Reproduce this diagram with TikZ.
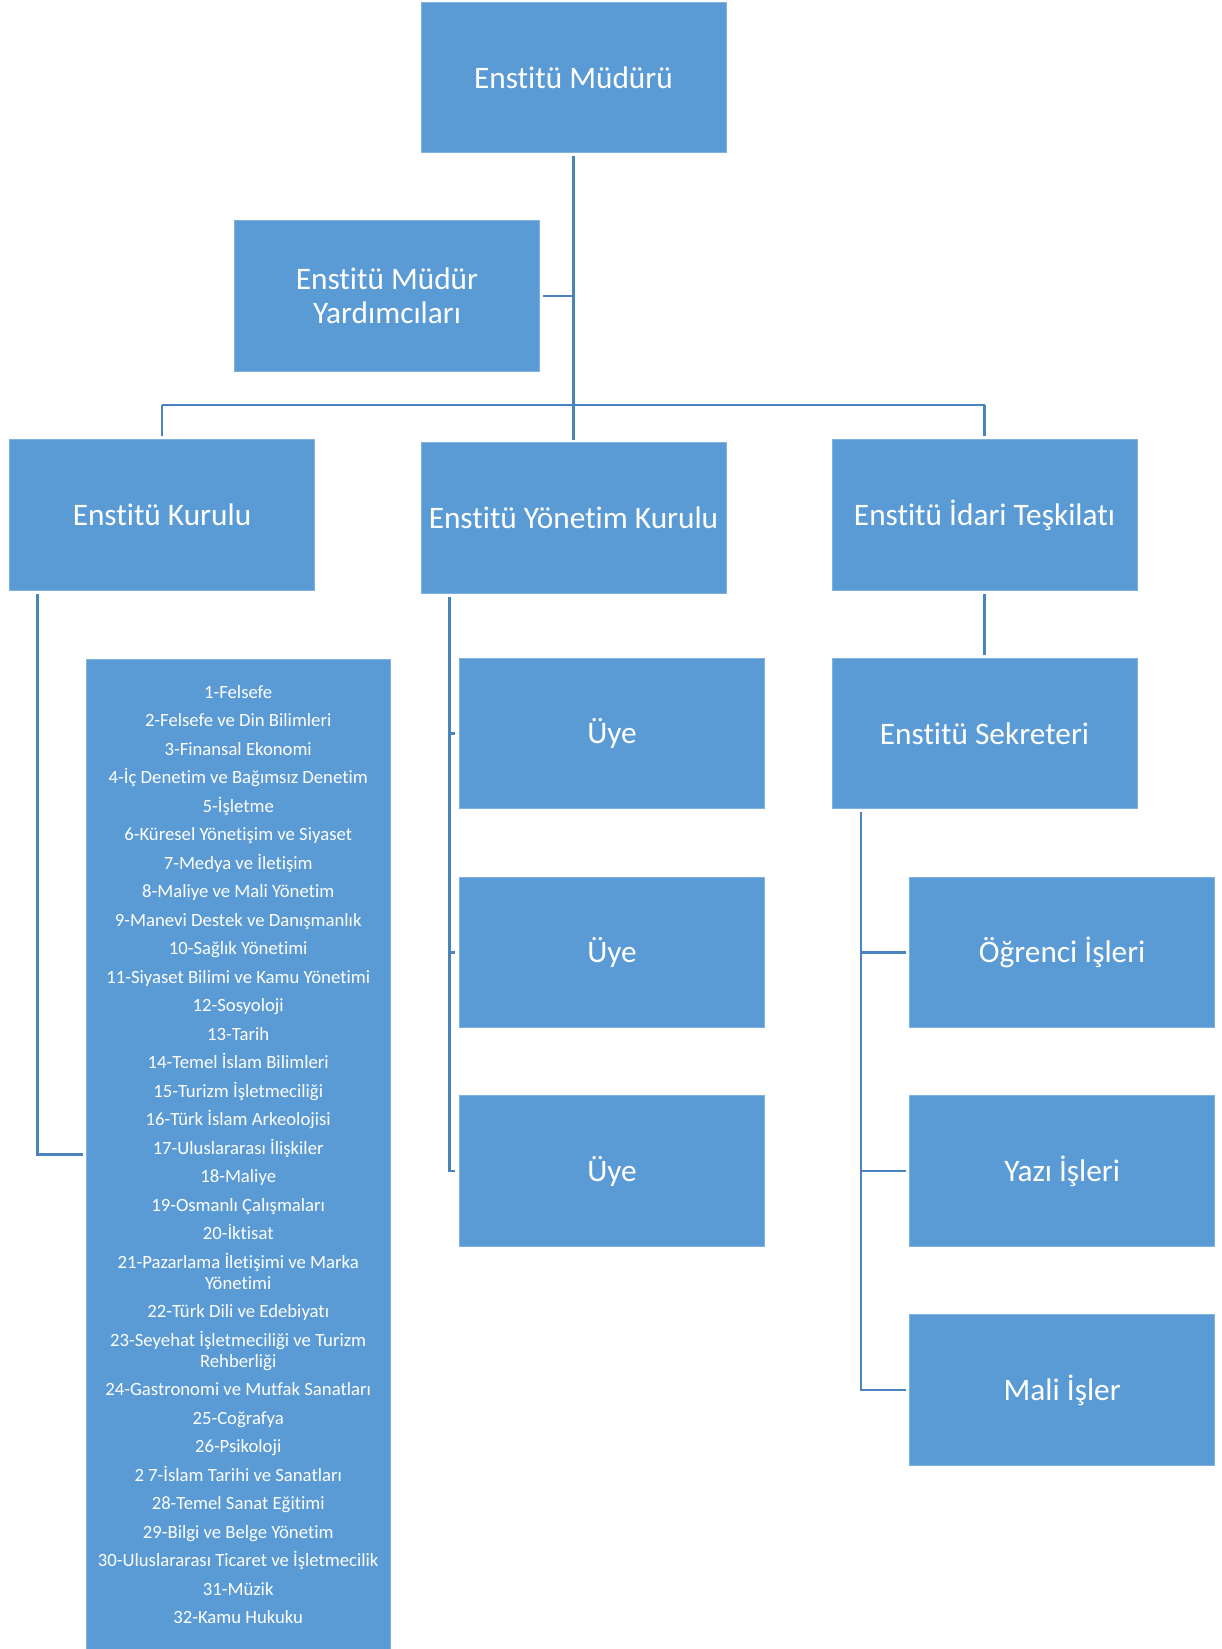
\documentclass[tikz,border=0pt]{standalone}
\usepackage{fontspec}
\setmainfont{Carlito}[Ligatures={NoCommon,NoDiscretionary,NoContextual}]
\definecolor{boxblue}{HTML}{5B9BD5}
\definecolor{boxedge}{HTML}{7FB2E0}
\definecolor{linkblue}{HTML}{4A84BF}
\begin{document}
\begin{tikzpicture}[x=1pt,y=-1pt,
  orgbox/.style={rectangle, fill=boxblue, draw=boxedge, line width=0.8pt,
    minimum width=305pt, minimum height=150.5pt, inner sep=0pt,
    text=white, align=center, font=\fontsize{31.3pt}{34pt}\selectfont},
  listbox/.style={rectangle, fill=boxblue, draw=boxedge, line width=0.8pt,
    minimum width=304pt, minimum height=990.6pt, inner sep=0pt,
    text=white, align=center, font=\fontsize{18.7pt}{21pt}\selectfont},
  conn/.style={draw=linkblue, line width=2.8pt}]
\useasboundingbox (0,0) rectangle (1221,1649);
\fill[white] (0,0) rectangle (1221,1649);

\node[orgbox] (mudur) at (573.5,77.3) {Enstitü Müdürü};
\node[orgbox] (yard) at (387,296) {Enstitü Müdür\\Yardımcıları};
\node[orgbox] (kurul) at (162,515) {Enstitü Kurulu};
\node[orgbox] (yonetim) at (573.5,518) {Enstitü Yönetim Kurulu};
\node[orgbox] (idari) at (984.5,515) {Enstitü İdari Teşkilatı};
\node[orgbox] (sekreter) at (984.5,733.5) {Enstitü Sekreteri};
\node[orgbox] (uye1) at (612,733.5) {Üye};
\node[orgbox] (uye2) at (612,952.3) {Üye};
\node[orgbox] (uye3) at (612,1171) {Üye};
\node[orgbox] (ogr) at (1062.2,952.3) {Öğrenci İşleri};
\node[orgbox] (yazi) at (1062.2,1171) {Yazı İşleri};
\node[orgbox] (mali) at (1062.2,1390) {Mali İşler};
\node[listbox] (list) at (238.2,1154.4) {%
1-Felsefe\\[7.5pt]
2-Felsefe ve Din Bilimleri\\[7.5pt]
3-Finansal Ekonomi\\[7.5pt]
4-İç Denetim ve Bağımsız Denetim\\[7.5pt]
5-İşletme\\[7.5pt]
6-Küresel Yönetişim ve Siyaset\\[7.5pt]
7-Medya ve İletişim\\[7.5pt]
8-Maliye ve Mali Yönetim\\[7.5pt]
9-Manevi Destek ve Danışmanlık\\[7.5pt]
10-Sağlık Yönetimi\\[7.5pt]
11-Siyaset Bilimi ve Kamu Yönetimi\\[7.5pt]
12-Sosyoloji\\[7.5pt]
13-Tarih\\[7.5pt]
14-Temel İslam Bilimleri\\[7.5pt]
15-Turizm İşletmeciliği\\[7.5pt]
16-Türk İslam Arkeolojisi\\[7.5pt]
17-Uluslararası İlişkiler\\[7.5pt]
18-Maliye\\[7.5pt]
19-Osmanlı Çalışmaları\\[7.5pt]
20-İktisat\\[7.5pt]
21-Pazarlama İletişimi ve Marka\\Yönetimi\\[7.5pt]
22-Türk Dili ve Edebiyatı\\[7.5pt]
23-Seyehat İşletmeciliği ve Turizm\\Rehberliği\\[7.5pt]
24-Gastronomi ve Mutfak Sanatları\\[7.5pt]
25-Coğrafya\\[7.5pt]
26-Psikoloji\\[7.5pt]
2 7-İslam Tarihi ve Sanatları\\[7.5pt]
28-Temel Sanat Eğitimi\\[7.5pt]
29-Bilgi ve Belge Yönetim\\[7.5pt]
30-Uluslararası Ticaret ve İşletmecilik\\[7.5pt]
31-Müzik\\[7.5pt]
32-Kamu Hukuku};

% coordinates for the connector bus lines
\coordinate (bar) at (0,405);
\coordinate (yv) at ([xshift=29pt]yonetim.south west);
\coordinate (sv) at ([xshift=29.3pt]sekreter.south west);
\coordinate (kv) at ([xshift=28.3pt]kurul.south west);

% top trunk
\draw[conn, shorten <=3pt, shorten >=2pt] (mudur.south) -- (yonetim.north);
\draw[conn, shorten <=3pt] (yard.east) -- (yard.east -| mudur.south);
\draw[conn, shorten >=3pt] (kurul.north |- bar) -- (kurul.north);
\draw[conn] (kurul.north |- bar) -- (idari.north |- bar);
\draw[conn, shorten >=3pt] (idari.north |- bar) -- (idari.north);

% Enstitu Kurulu -> list
\draw[conn, shorten <=3pt, shorten >=3pt] (kv) |- (list.west);

% Yonetim Kurulu -> members
\draw[conn, shorten <=3pt, shorten >=4pt] (yv) |- (uye3.west);
\draw[conn, shorten >=4pt] (yv |- uye1.west) -- (uye1.west);
\draw[conn, shorten >=4pt] (yv |- uye2.west) -- (uye2.west);

% Idari -> Sekreter
\draw[conn, shorten <=3pt, shorten >=3pt] (idari.south) -- (sekreter.north);

% Sekreter -> units
\draw[conn, shorten <=3pt, shorten >=3pt] (sv) |- (mali.west);
\draw[conn, shorten >=3pt] (sv |- ogr.west) -- (ogr.west);
\draw[conn, shorten >=3pt] (sv |- yazi.west) -- (yazi.west);
\end{tikzpicture}
\end{document}
